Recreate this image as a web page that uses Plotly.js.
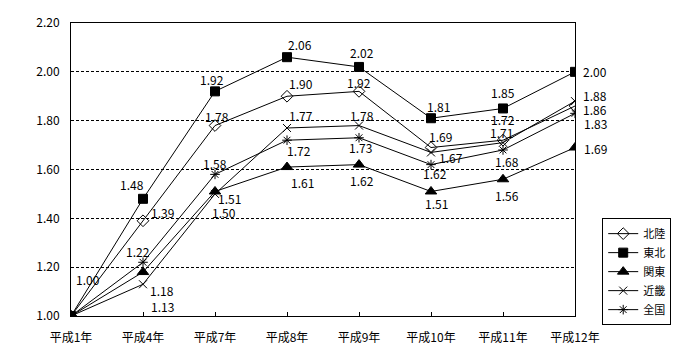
<!DOCTYPE html>
<html><head><meta charset="utf-8">
<script src="https://cdn.plot.ly/plotly-3.0.1.min.js"></script>
<style>body{margin:0;background:#fff}#c{width:700px;height:360px}</style>
</head><body><div id="c"></div>
<script>
var categories = ["平成1年","平成4年","平成7年","平成8年","平成9年","平成10年","平成11年","平成12年"];
var seriesNames = ["北陸","東北","関東","近畿","全国"];
var hokuriku = [1.00,1.39,1.78,1.90,1.92,1.69,1.72,1.86];
var tohoku   = [1.00,1.48,1.92,2.06,2.02,1.81,1.85,2.00];
var kanto    = [1.00,1.18,1.51,1.61,1.62,1.51,1.56,1.69];
var kinki    = [1.00,1.13,1.50,1.77,1.78,1.67,1.71,1.88];
var zenkoku  = [1.00,1.22,1.58,1.72,1.73,1.62,1.68,1.83];
var yTicks = [1.00,1.20,1.40,1.60,1.80,2.00,2.20];

// label offsets in px [dx, dy] (null = no label)
var offHokuriku = [null,[19,-8],[2,-9],[14,-13],[0,-9],[9,-11],[0,-21],[20,3]];
var offTohoku   = [[17,-37],[-11,-14],[-3,-12],[13,-13],[3,-14],[7,-12],[0,-16],[20,0]];
var offKanto    = [null,[19,18],[14,7],[15,15],[3,16],[5,12],[4,16],[20,1]];
var offKinki    = [null,[19,22],[9,19],[14,-12],[3,-10],[20,5],[-2,-10],[20,-6]];
var offZenkoku  = [null,[-5,-11],[0,-11],[12,10],[1,10],[4,9],[4,12],[20,10]];

var seriesVals = [hokuriku,tohoku,kanto,kinki,zenkoku];
var offs = [offHokuriku,offTohoku,offKanto,offKinki,offZenkoku];
var symbols = ["diamond-open","square","triangle-up","x-thin-open","asterisk-open"];
var sizes = [9,9,10,8,8];

var traces = seriesVals.map(function(v,i){
  return {x:categories,y:v,name:seriesNames[i],type:"scatter",mode:"lines+markers",
    line:{color:"#000",width:1},
    marker:{symbol:symbols[i],size:sizes[i],color:"#000",line:{color:"#000",width:1}}};
});
var font = "'Noto Sans CJK JP', 'DejaVu Sans', sans-serif";
var annotations = [];
seriesVals.forEach(function(v,i){
  v.forEach(function(val,j){
    var o = offs[i][j];
    if(!o) return;
    annotations.push({x:categories[j],y:val,xref:"x",yref:"y",text:val.toFixed(2),showarrow:false,
      xshift:o[0],yshift:-o[1],borderpad:0,font:{family:font,size:12,color:"#000"}});
  });
});
var layout = {
  width:700,height:360,paper_bgcolor:"#fff",plot_bgcolor:"#fff",
  margin:{l:71,r:125,t:23,b:44},
  font:{family:font,size:12,color:"#000"},
  showlegend:true,
  legend:{x:1.054,y:0.334,xanchor:"left",yanchor:"top",bordercolor:"#000",borderwidth:1,
    bgcolor:"#fff",font:{family:font,size:11,color:"#000"},itemwidth:30,tracegroupgap:0},
  xaxis:{type:"category",range:[0,7],showline:true,linecolor:"#000",linewidth:1,mirror:true,
    ticks:"inside",ticklen:4,tickcolor:"#000",showgrid:false,zeroline:false,ticklabelstandoff:11,
    tickfont:{family:font,size:12,color:"#000"}},
  yaxis:{range:[1,2.2],tickvals:yTicks,ticktext:yTicks.map(function(t){return t.toFixed(2);}),
    showline:true,linecolor:"#000",linewidth:1,mirror:true,ticks:"",
    showgrid:true,gridcolor:"#000",gridwidth:1,griddash:"3px,2px",zeroline:false,
    tickfont:{family:font,size:12,color:"#000"},ticklabelstandoff:8},
  annotations:annotations
};
Plotly.newPlot("c",traces,layout,{displayModeBar:false,staticPlot:true});
</script></body></html>
